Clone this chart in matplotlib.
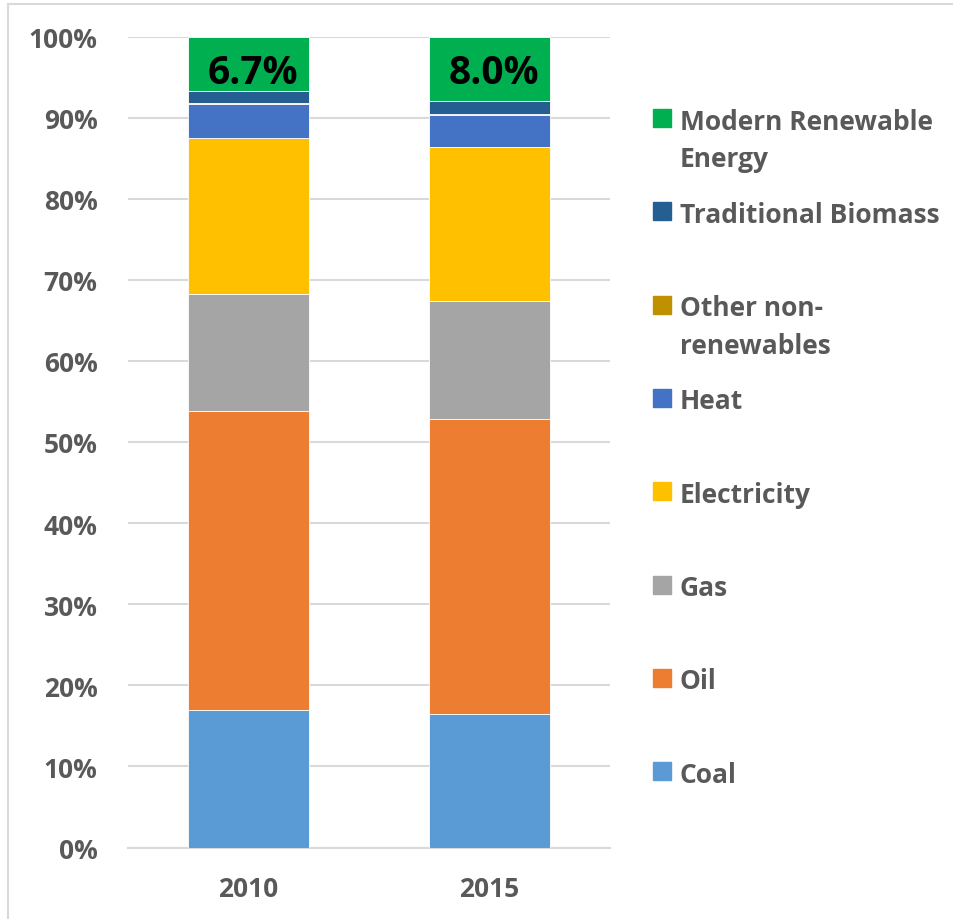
import matplotlib.pyplot as plt
from matplotlib.patches import Rectangle
import numpy as np

plt.rcParams["font.family"] = ["Open Sans", "DejaVu Sans"]
plt.rcParams["font.weight"] = "bold"

years = ["2010", "2015"]
series = ["Coal", "Oil", "Gas", "Electricity", "Heat",
          "Other non-\nrenewables", "Traditional Biomass", "Modern Renewable\nEnergy"]
coal = [17.0, 16.5]
oil = [36.8, 36.3]
gas = [14.5, 14.6]
electricity = [19.2, 19.0]
heat = [4.2, 3.9]
other = [0.1, 0.2]
traditional = [1.5, 1.5]
modern = [6.7, 8.0]
colors = ["#5B9BD5", "#ED7D31", "#A5A5A5", "#FFC000", "#4472C4",
          "#BF9000", "#255E91", "#00B050"]
labels = ["6.7%", "8.0%"]

values = [coal, oil, gas, electricity, heat, other, traditional, modern]
text_color = "#595959"
grid_color = "#D9D9D9"

W, H = 954, 920
fig = plt.figure(figsize=(W / 100, H / 100), dpi=100)
ax = fig.add_axes([128 / W, 1 - 848.5 / H, (610 - 128) / W, (848.5 - 37.5) / H])

x = np.arange(len(years))
bottom = np.zeros(len(years))
for vals, col in zip(values, colors):
    ax.bar(x, vals, width=0.5, bottom=bottom, color=col,
           edgecolor="white", linewidth=0.6, zorder=3)
    bottom += np.array(vals)

# percentage labels in the green segment
for xi, lab in zip(x, labels):
    ax.text(xi + 0.02, 95.6, lab, ha="center", va="center",
            fontsize=28, fontweight="bold", color="black", zorder=4)

ax.set_xlim(-0.5, 1.5)
ax.set_ylim(0, 100)
ax.set_yticks(np.arange(0, 101, 10))
ax.set_yticklabels([f"{v}%" for v in range(0, 101, 10)])
ax.set_xticks(x)
ax.set_xticklabels(years)
ax.tick_params(axis="both", length=0, labelsize=19, labelcolor=text_color)
ax.tick_params(axis="y", pad=22)
ax.tick_params(axis="x", pad=20)
ax.grid(axis="y", color=grid_color, linewidth=1.5, zorder=0)
for side in ["top", "right", "left"]:
    ax.spines[side].set_visible(False)
ax.spines["bottom"].set_color(grid_color)
ax.spines["bottom"].set_linewidth(1.5)

# legend, drawn top to bottom in reverse stacking order
y0, step = 119, 93.3
for i, (name, col) in enumerate(zip(series[::-1], colors[::-1])):
    yc = y0 + i * step
    fig.patches.append(Rectangle((653 / W, 1 - (yc + 9) / H), 18 / W, 18 / H,
                                 transform=fig.transFigure, color=col))
    for k, line in enumerate(name.split("\n")):
        fig.text(680 / W, 1 - (yc + k * 38) / H, line, ha="left",
                 va="center_baseline", fontsize=19, fontweight="bold",
                 color=text_color)

# chart border (left and top visible)
fig.patches.append(Rectangle((8 / W, -0.1), 1.2, 1.1 - 5 / H,
                             transform=fig.transFigure, fill=False,
                             edgecolor=grid_color, linewidth=1.5))

fig.savefig("out.png", dpi=100)
